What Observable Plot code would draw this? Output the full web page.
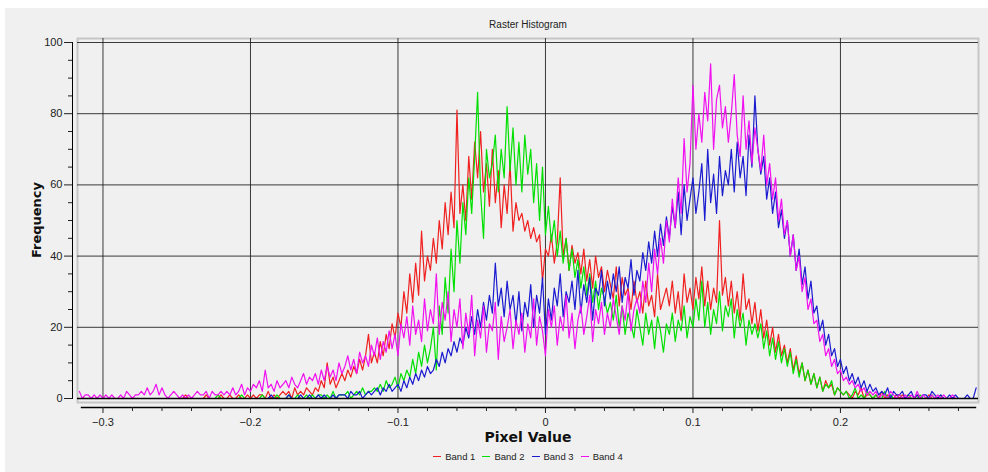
<!DOCTYPE html>
<html>
<head>
<meta charset="utf-8">
<script src="https://cdn.jsdelivr.net/npm/d3@7"></script>
<script src="https://cdn.jsdelivr.net/npm/@observablehq/plot@0.6"></script>
<style>
  html, body { margin: 0; padding: 0; background: #ffffff; }
  #wrap { position: relative; width: 988px; height: 472px; overflow: hidden; font-family: "Liberation Sans", "DejaVu Sans", sans-serif; }
  #panel { position: absolute; left: 5px; top: 8px; right: 0; bottom: 0; background: #f0f0f0; }
  #chart { position: absolute; left: 0; top: 0; }
  #title { position: absolute; left: 378px; width: 300px; top: 19px; text-align: center; font-size: 10px; color: #222; }
  #ylab { position: absolute; left: 36px; top: 220px; transform: translate(-50%, -50%) rotate(-90deg); font-family: "DejaVu Sans", sans-serif; font-weight: bold; font-size: 13px; color: #111; white-space: nowrap; }
  #xlab { position: absolute; left: 378px; width: 300px; top: 429px; text-align: center; font-family: "DejaVu Sans", sans-serif; font-weight: bold; font-size: 14px; color: #111; }
  #legend { position: absolute; left: 328px; width: 400px; top: 451px; display: flex; justify-content: center; gap: 7px; font-size: 9.5px; color: #222; }
  #legend .item { display: flex; align-items: center; gap: 4px; }
  #legend .sw { width: 8px; height: 1.6px; display: inline-block; }
</style>
</head>
<body>
<div id="wrap">
  <div id="panel"></div>
  <div id="chart"></div>
  <div id="title">Raster Histogram</div>
  <div id="ylab">Frequency</div>
  <div id="xlab">Pixel Value</div>
  <div id="legend"></div>
</div>
<script>
// ---- data ----
const binStart = -0.316;
const binWidth = 0.002;
const bandNames = ["Band 1", "Band 2", "Band 3", "Band 4"];
const bandColors = ["#f02020", "#00e000", "#1a1ad0", "#f010f0"];
const xTicks = [-0.3, -0.2, -0.1, 0, 0.1, 0.2];
const xMinorTicks = [-0.28, -0.26, -0.24, -0.22, -0.18, -0.16, -0.14, -0.12, -0.08, -0.06, -0.04, -0.02, 0.02, 0.04, 0.06, 0.08, 0.12, 0.14, 0.16, 0.18, 0.22, 0.24, 0.26, 0.28];
const yTicks = [0, 20, 40, 60, 80, 100];
const yMinorTicks = [5, 10, 15, 25, 30, 35, 45, 50, 55, 65, 70, 75, 85, 90, 95];

const band1 = [
  0,0,0,0,0,0,0,0,0,0,
  0,0,0,0,0,0,0,0,0,0,
  0,0,0,0,0,0,0,0,0,0,
  0,0,0,0,0,0,1,0,0,0,
  0,0,0,1,0,0,0,0,1,0,
  0,1,0,0,1,0,0,1,0,1,
  0,1,1,0,2,0,1,0,1,2,
  1,2,0,3,1,2,1,3,2,1,
  3,2,5,3,10,4,6,3,5,7,
  5,8,6,9,7,11,8,12,18,10,
  13,10,16,12,18,14,21,17,24,20,
  30,24,35,27,38,29,47,33,40,36,
  45,38,50,42,55,46,58,48,81,52,
  60,50,68,56,72,62,75,58,66,54,
  70,55,64,48,60,52,66,47,55,50,
  52,47,50,45,48,44,46,33,42,40,
  46,38,44,62,40,45,36,43,38,41,
  35,42,33,39,31,40,34,37,30,36,
  32,28,37,26,34,29,31,25,33,27,
  30,24,33,26,29,23,35,25,28,31,
  26,33,24,30,22,35,27,31,25,34,
  28,37,26,33,25,31,27,50,29,34,
  26,33,24,30,22,35,25,28,21,27,
  19,25,17,22,15,20,13,18,12,15,
  10,14,8,12,7,10,5,8,4,7,
  3,6,2,5,3,4,1,3,2,1,
  2,1,0,2,1,3,0,1,1,0,
  1,0,2,0,1,0,0,1,0,1,
  0,1,0,0,1,0,0,0,1,0,
  0,0,0,0,0,0,0,0,0,0,
  0,0,0,0,0
];
const band2 = [
  0,0,0,0,0,0,0,0,0,0,
  0,0,0,0,0,0,0,0,0,0,
  0,0,0,0,0,0,0,0,0,0,
  0,0,0,0,0,0,0,0,0,0,
  0,0,0,0,0,0,0,1,0,0,
  0,0,0,0,0,1,0,0,0,0,
  0,0,1,0,0,0,0,1,0,0,
  0,1,0,0,1,0,0,1,0,1,
  0,1,1,0,1,0,2,0,1,1,
  1,2,0,1,2,1,3,1,2,2,
  3,2,4,2,5,3,4,6,3,7,
  5,8,6,11,7,13,9,15,10,14,
  20,8,26,18,34,24,42,30,50,38,
  55,46,62,52,68,86,58,45,70,62,
  66,74,58,70,62,82,64,76,60,72,
  58,74,63,70,55,66,50,65,46,54,
  44,50,40,47,38,45,36,42,34,39,
  31,37,29,35,27,33,25,31,28,24,
  27,22,29,20,26,18,24,21,17,25,
  20,15,24,18,22,14,23,19,13,21,
  18,24,16,22,19,26,17,23,20,28,
  22,33,20,27,18,25,21,30,19,26,
  23,28,17,25,20,24,15,22,18,21,
  17,21,14,19,12,17,11,16,10,14,
  9,13,7,11,6,10,5,8,4,7,
  3,6,2,4,3,5,1,3,2,1,
  2,0,1,3,0,1,0,2,1,0,
  1,0,0,2,0,1,0,0,1,0,
  0,1,0,0,0,1,0,0,0,1,
  0,0,1,0,0,0,0,0,0,0,
  0,0,0,0,0
];
const band3 = [
  0,0,0,0,0,0,0,0,0,0,
  0,0,0,0,0,0,0,0,0,0,
  0,0,0,0,0,0,0,0,0,0,
  0,0,0,0,0,0,0,0,0,0,
  0,0,0,0,0,0,0,0,0,0,
  0,0,0,0,0,0,0,0,0,0,
  0,0,0,0,0,1,0,0,0,0,
  0,1,0,0,0,1,0,0,1,0,
  0,1,0,1,0,0,1,0,1,1,
  1,0,2,1,1,2,0,1,2,1,
  2,3,1,3,2,4,2,3,4,2,
  5,3,6,4,7,5,8,6,9,7,
  8,11,9,13,10,14,12,16,13,17,
  15,20,17,23,18,25,20,27,22,29,
  24,38,26,31,23,33,25,29,21,30,
  19,27,23,32,20,29,24,34,18,28,
  22,31,26,35,23,30,27,33,25,36,
  24,32,27,34,22,31,29,36,26,33,
  28,35,30,37,27,34,31,39,29,36,
  33,41,36,44,38,47,40,49,43,51,
  45,54,48,58,46,60,50,56,62,52,
  58,66,50,70,55,63,52,68,57,64,
  60,70,58,72,62,68,57,74,65,85,
  70,63,68,56,62,52,58,48,53,45,
  50,40,46,36,42,32,37,28,33,24,
  26,19,22,15,18,12,14,9,11,7,
  9,5,7,4,6,3,5,2,4,2,
  3,1,2,1,3,0,2,1,1,2,
  0,1,2,0,1,0,1,1,0,2,
  1,0,1,0,0,1,0,1,0,0,
  0,1,0,0,3
];
const band4 = [
  2,0,1,1,0,1,0,1,0,1,
  0,1,0,0,1,0,2,1,0,1,
  1,2,1,3,1,2,4,1,3,1,
  0,1,2,1,0,1,0,1,0,1,
  2,1,1,2,0,2,1,1,2,1,
  2,1,3,1,2,4,1,3,2,4,
  3,5,2,8,3,4,2,5,3,4,
  5,3,6,4,3,5,7,4,6,5,
  7,4,8,5,9,6,8,5,10,7,
  9,12,8,11,7,13,10,12,9,15,
  12,17,11,16,13,19,14,18,12,21,
  17,23,15,26,18,22,16,28,19,25,
  21,35,18,27,22,30,16,25,20,28,
  14,24,18,29,12,22,17,26,13,21,
  19,27,11,23,16,20,25,14,22,18,
  24,13,21,17,28,15,23,19,12,25,
  20,26,15,23,19,29,17,24,14,22,
  26,18,23,29,16,25,21,27,18,24,
  20,28,23,18,26,22,30,19,25,28,
  24,33,27,38,30,42,35,45,38,50,
  44,56,48,62,52,73,58,66,88,70,
  80,72,86,78,94,70,84,88,76,82,
  72,80,91,74,68,85,70,78,66,76,
  70,64,74,60,66,56,62,50,56,46,
  50,40,46,36,40,30,34,25,28,21,
  22,16,18,12,14,9,11,7,8,5,
  6,4,5,3,4,2,3,1,2,1,
  2,0,1,1,0,2,1,0,1,0,
  1,0,1,0,2,0,1,0,0,1,
  0,1,0,1,0,0,1,0,0,0,
  0,0,0,0,0
];

const bands = [band1, band2, band3, band4];
const rows = [];
bands.forEach((vals, b) => {
  vals.forEach((v, i) => rows.push({x: binStart + i * binWidth, y: v, band: bandNames[b]}));
});

const chart = Plot.plot({
  width: 988,
  height: 432,
  marginLeft: 72,
  marginRight: 10,
  marginTop: 38,
  marginBottom: 25,
  insetLeft: 6,
  insetRight: 0,
  insetTop: 4,
  insetBottom: 9,
  style: {background: "transparent", fontFamily: "Liberation Sans, DejaVu Sans, sans-serif", fontSize: "11px", color: "#222"},
  x: {domain: [-0.3166, 0.2936]},
  y: {domain: [0, 100]},
  color: {domain: bandNames, range: bandColors},
  marks: [
    Plot.frame({stroke: "#c6c6c6", strokeWidth: 2, insetLeft: 5, insetBottom: 5}),
    Plot.gridX(xTicks, {stroke: "#1a1a1a", strokeOpacity: 0.85, strokeWidth: 1, insetBottom: 9}),
    Plot.gridY(yTicks.slice(1), {stroke: "#1a1a1a", strokeOpacity: 0.85, strokeWidth: 1, insetLeft: 5}),
    Plot.line(rows, {x: "x", y: "y", z: "band", stroke: "band", strokeWidth: 1.2}),
    Plot.gridY([0], {stroke: "#000", strokeOpacity: 1, strokeWidth: 1.6, insetLeft: 5}),
    Plot.frame({anchor: "bottom", stroke: "#000", strokeWidth: 1.4, insetLeft: 9, insetRight: 3}),
    Plot.frame({anchor: "left", stroke: "#000", strokeWidth: 1, insetTop: 4, insetBottom: 9}),
    Plot.axisX(xTicks, {tickSize: 6, tickPadding: 5, label: null, tickFormat: d => d === 0 ? "0" : d3.format(".1f")(d)}),
    Plot.axisX(xMinorTicks, {tickSize: 4, tickFormat: () => "", label: null}),
    Plot.axisY(yTicks, {tickSize: 8, tickPadding: 2, label: null}),
    Plot.axisY(yMinorTicks, {tickSize: 4, tickFormat: () => "", label: null})
  ]
});
document.getElementById("chart").appendChild(chart);

// legend
const legend = document.getElementById("legend");
bandNames.forEach((name, i) => {
  const item = document.createElement("span");
  item.className = "item";
  const sw = document.createElement("span");
  sw.className = "sw";
  sw.style.background = bandColors[i];
  const t = document.createElement("span");
  t.textContent = name;
  item.appendChild(sw);
  item.appendChild(t);
  legend.appendChild(item);
});
</script>
</body>
</html>
